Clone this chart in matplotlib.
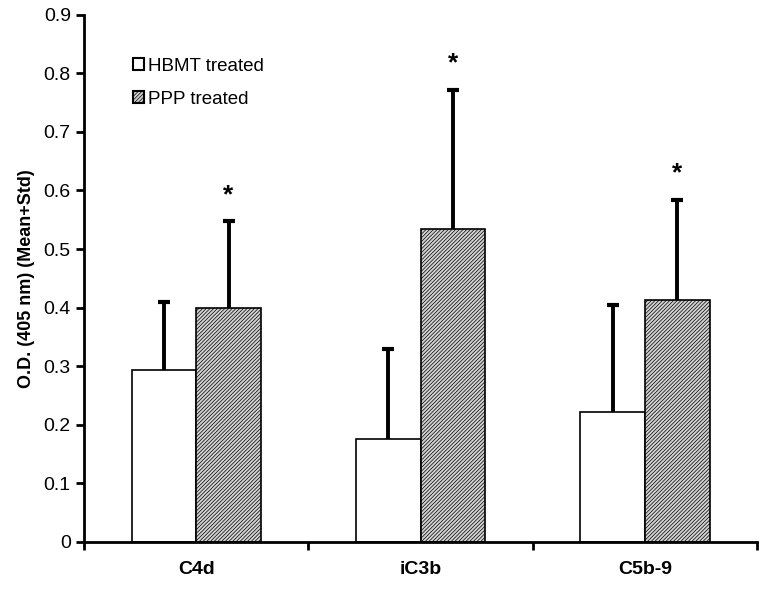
import numpy as np
import matplotlib.pyplot as plt
from matplotlib.patches import Patch

plt.rcParams['font.family'] = ['Liberation Sans', 'DejaVu Sans']
plt.rcParams['hatch.linewidth'] = 0.5
plt.rcParams['hatch.color'] = '#555555'

categories = ['C4d', 'iC3b', 'C5b-9']
hbmt_mean = [0.294, 0.175, 0.222]
hbmt_std = [0.115, 0.154, 0.183]
ppp_mean = [0.399, 0.535, 0.413]
ppp_std = [0.148, 0.236, 0.170]
significant = [True, True, True]

x = np.arange(len(categories)) + 0.5
w = 0.288

fig = plt.figure(figsize=(7.64, 5.89), dpi=100)
ax = fig.add_axes([0.110, 0.080, 0.881, 0.895])

ppp_color = '#d2d2d2'
ax.bar(x - w / 2, hbmt_mean, w, color='white', edgecolor='black', linewidth=1.2, zorder=2)
ax.bar(x + w / 2, ppp_mean, w, color=ppp_color, edgecolor='black', linewidth=1.2,
       hatch='/////////', zorder=2)

# upper-only error bars (Mean+Std)
for xs, m, s in [(x - w / 2, hbmt_mean, hbmt_std), (x + w / 2, ppp_mean, ppp_std)]:
    tops = np.array(m) + np.array(s)
    ax.vlines(xs, m, tops, colors='black', linewidth=2.8, zorder=3)
    ax.plot(xs, tops, linestyle='none', marker='_', markersize=9, markeredgewidth=3,
            color='black', zorder=3)

for xi, m, s, sig in zip(x, ppp_mean, ppp_std, significant):
    if sig:
        ax.text(xi + w / 2, m + s + 0.025, '*', ha='center', va='bottom', fontsize=19, fontweight='bold')

ax.set_xlim(0, 3)
ax.set_ylim(0, 0.9)
ax.set_yticks(np.arange(0, 0.91, 0.1))
ax.set_yticklabels(['0'] + ['%.1f' % v for v in np.arange(0.1, 0.91, 0.1)])
ax.set_xticks([0, 1, 2, 3])
ax.set_xticklabels([])
ax.set_xticks(x, minor=True)
ax.set_xticklabels(categories, minor=True)
ax.tick_params(axis='x', which='minor', length=0, pad=14)
ax.tick_params(axis='both', which='major', direction='out', length=6, width=2)
for lab in ax.get_yticklabels():
    lab.set_fontsize(14)
for lab in ax.get_xticklabels(minor=True):
    lab.set_fontsize(14)
    lab.set_fontweight('bold')

for side in ['top', 'right']:
    ax.spines[side].set_visible(False)
for side in ['left', 'bottom']:
    ax.spines[side].set_linewidth(2)

ax.set_ylabel('O.D. (405 nm) (Mean+Std)', fontsize=13, fontweight='bold', labelpad=6)

handles = [Patch(facecolor='white', edgecolor='black', linewidth=1.5, label='HBMT treated'),
           Patch(facecolor=ppp_color, edgecolor='black', linewidth=1.5, hatch='/////////', label='PPP treated')]
ax.legend(handles=handles, loc='upper left', bbox_to_anchor=(0.047, 0.95), frameon=False,
          fontsize=13.5, handlelength=0.6, handleheight=0.6, handletextpad=0.25, labelspacing=0.85)

fig.savefig('out.png', dpi=100)
